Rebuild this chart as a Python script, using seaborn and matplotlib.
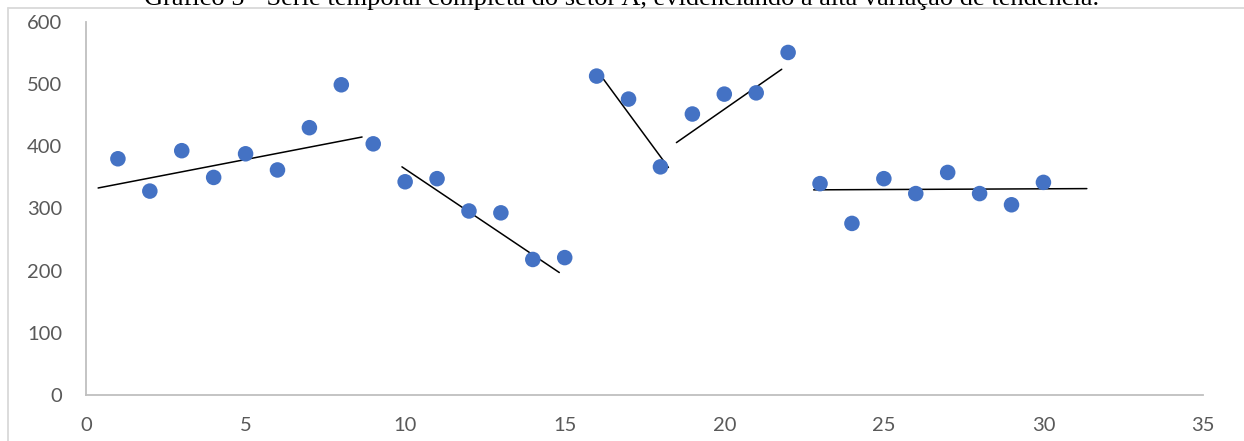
import matplotlib
matplotlib.use("Agg")
import matplotlib.pyplot as plt
import seaborn as sns
import pandas as pd
from matplotlib.lines import Line2D

# ---- data ----
periodo = list(range(1, 31))
valores = [380, 328, 393, 350, 388, 362, 430, 499, 404,
           343, 348, 296, 293, 218, 221,
           513, 476, 367,
           452, 484, 486, 551,
           340, 276, 348, 324, 358, 324, 306, 342]

# trend segments (start x, end x, start y, end y) as drawn in the reference
trend_x0 = [0.38, 9.9, 16.2, 18.5, 22.8]
trend_x1 = [8.65, 14.83, 18.25, 21.8, 31.36]
trend_y0 = [333, 367, 509, 406, 330]
trend_y1 = [415, 197, 366, 524, 332]

x_ticks = [0, 5, 10, 15, 20, 25, 30, 35]
y_ticks = [0, 100, 200, 300, 400, 500, 600]
titulo = "Gráfico 5 - Série temporal completa do setor A, evidenciando a alta variação de tendência."

sns.set_theme(style="white")
plt.rcParams["font.family"] = ["Lato", "DejaVu Sans"]

fig = plt.figure(figsize=(12.44, 4.41), dpi=100)
ax = fig.add_axes([86 / 1244, 1 - 395 / 441, (1203 - 86) / 1244, (395 - 22) / 441])

df = pd.DataFrame({"periodo": periodo, "valor": valores})
sns.scatterplot(data=df, x="periodo", y="valor", ax=ax, color="#4472C4",
                s=125, edgecolor="none", zorder=3, clip_on=False)

for x0, x1, y0, y1 in zip(trend_x0, trend_x1, trend_y0, trend_y1):
    sns.lineplot(x=[x0, x1], y=[y0, y1], ax=ax, color="black", linewidth=1.1,
                 zorder=2, sort=False)

ax.set_xlim(0, 35)
ax.set_ylim(0, 600)
ax.set_xticks(x_ticks)
ax.set_yticks(y_ticks)
ax.set_xlabel("")
ax.set_ylabel("")
ax.tick_params(axis="both", length=0, labelsize=14.5, labelcolor="#595959")
ax.tick_params(axis="y", pad=17)
ax.tick_params(axis="x", pad=16)
for side in ["top", "right"]:
    ax.spines[side].set_visible(False)
for side in ["left", "bottom"]:
    ax.spines[side].set_color("#BFBFBF")
    ax.spines[side].set_linewidth(1.3)
ax.grid(False)

# outer chart frame (left and top edges visible)
fig.add_artist(Line2D([8 / 1244, 8 / 1244], [0, 1 - 8 / 441], color="#D9D9D9", lw=1.3,
                      transform=fig.transFigure))
fig.add_artist(Line2D([8 / 1244, 1], [1 - 8 / 441, 1 - 8 / 441], color="#D9D9D9", lw=1.3,
                      transform=fig.transFigure))

# title, clipped by the top of the image as in the reference
fig.text(0.5 * (143 + 1100) / 1244, 1 - 5 / 441, titulo, ha="center", va="baseline",
         fontsize=19, family=["Liberation Serif", "DejaVu Serif"], color="black")

fig.savefig("out.png", dpi=100)
